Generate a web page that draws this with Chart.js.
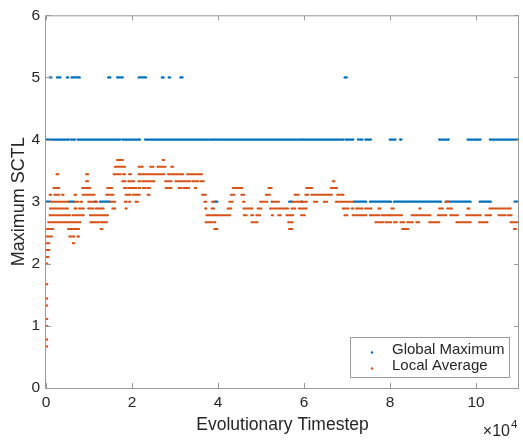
<!DOCTYPE html>
<html>
<head>
<meta charset="utf-8">
<script src="https://cdn.jsdelivr.net/npm/chart.js@4"></script>
<style>
  html, body { margin: 0; padding: 0; background: #fff; }
  #wrap { width: 523px; height: 442px; }
</style>
</head>
<body>
<div id="wrap"><canvas id="chart"></canvas></div>
<script>
// runs: [first timestep, last timestep] at one level
const gm5 = [[800,1300],[2500,3400],[4800,5200],[5900,7900],[14400,15000],[16500,17900],[21500,23300],[26900,27400],[28500,28900],[31200,31800],[69400,70000]];
const gm4 = [[0,5400],[5800,6800],[7300,17300],[17700,21900],[23000,39300],[39500,59500],[59700,69200],[69600,71500],[72500,72800],[73100,73600],[74200,75600],[79900,81300],[82300,82700],[91400,93700],[98000,101100],[103200,110000]];
const gm3 = [[0,1100],[5200,6600],[11300,11700],[12500,15000],[39100,39900],[52500,52500],[56500,57300],[59300,59700],[71500,74500],[75300,80300],[80900,91900],[92900,98800],[100800,103500],[108900,110000]];
const gm2 = [[100,300]];

const avg367 = [[16500,17900],[27100,27500]];
const avg356 = [[16000,18400],[21500,22500],[24200,25000],[25900,27800],[29100,29600]];
const avg344 = [[2400,2900],[9300,9800],[15700,17400],[17900,18400],[19300,19800],[21500,22700],[23000,23900],[24200,27500],[28400,30900],[31200,31900],[32800,36300]];
const avg333 = [[9300,9800],[17700,18500],[19100,20500],[21500,21900],[22400,25200],[27700,29200],[30100,33500],[34000,35500],[36000,36700],[66700,67100]];
const avg322 = [[1700,3100],[8400,10300],[14200,15400],[18100,18700],[19100,19800],[20100,21100],[21500,21900],[22500,23100],[23500,24200],[27800,29200],[30800,31500],[31900,33300],[34600,35000],[43400,45700],[51700,52500],[60500,61900],[66200,67700]];
const avg311 = [[800,1200],[1900,3100],[3700,4100],[6600,7000],[8500,9600],[9900,11300],[14000,15700],[18500,19700],[20200,21800],[23600,24100],[36300,37200],[43000,43800],[45400,46100],[51100,52100],[57800,58800],[60300,61000],[61700,66500],[67700,69200]];
const avg300 = [[1100,3500],[3800,5200],[6700,7500],[8000,8400],[9800,11200],[11700,11900],[15000,16100],[18300,18800],[19300,19600],[20800,21400],[36800,37300],[38600,39100],[42600,43400],[45800,46200],[49800,51500],[52700,54200],[57300,59300],[59700,60700],[62300,63100],[64600,65400],[67400,71500],[92900,93700]];
const avg289 = [[900,5100],[6600,7100],[7700,8800],[9800,11100],[11600,13400],[15400,16100],[18500,18800],[37000,37300],[38500,39100],[42200,43100],[45900,48000],[49200,50100],[52100,56300],[57100,58000],[58800,60600],[69000,70400],[71100,71500],[72100,73600],[74200,75700],[77300,77800],[80300,80900],[86800,87100],[91400,92300],[93300,94400],[98000,98500],[103100,108100]];
const avg278 = [[800,5600],[6200,8800],[10200,14400],[37300,39300],[39500,42800],[46000,46700],[47700,48200],[48900,49800],[52500,52800],[54000,54600],[55900,57500],[59300,60200],[69400,70100],[71300,74500],[75300,77600],[78100,79700],[79900,82800],[85000,89400],[91100,93100],[94000,95800],[97700,101100],[102200,103500],[105200,106900],[107400,108300]];
const avg267 = [[500,5700],[6000,8000],[10300,10900],[11100,12300],[12700,14200],[37100,38600],[39000,39400],[47800,49200],[56300,57400],[76600,78400],[78900,80300],[80900,81600],[82400,83300],[84000,85300],[86100,86800],[89100,91500],[95400,98800],[100700,102700],[108000,110000]];
const avg256 = [[200,1700],[5100,7700],[12700,13100],[39100,39900],[56500,57300],[82800,84300],[108800,109300]];
const avg244 = [[200,1400],[5400,6600],[7300,7700]];
const avg233 = [[100,800],[6200,6600]];
const avg222 = [[100,800]];
const avg211 = [[100,600]];
// first few local averages, all right at the start
const avgStart = [2, 1.67, 1.44, 1.33, 1.11, 1, 0.78, 0.67];
const avgStartRun = [100, 300];

const gmLevels = [[5, gm5], [4, gm4], [3, gm3], [2, gm2]];
const avgLevels = [
  [3.67, avg367], [3.56, avg356], [3.44, avg344], [3.33, avg333], [3.22, avg322],
  [3.11, avg311], [3, avg300], [2.89, avg289], [2.78, avg278], [2.67, avg267],
  [2.56, avg256], [2.44, avg244], [2.33, avg233], [2.22, avg222], [2.11, avg211]
].concat(avgStart.map(v => [v, [avgStartRun]]));

const xTicks = [0, 2, 4, 6, 8, 10]; // x 10^4

const BLUE = '#0072BD';
const ORANGE = '#D95319';
const AXIS = '#9a9a9a';
const TEXT = '#262626';
const FONT = '"Liberation Sans", Arial, Helvetica, sans-serif';

function toPoints(levels) {
  const pts = [];
  levels.forEach(([v, runs]) => {
    runs.forEach(([a, b]) => {
      pts.push({ x: a, y: v }, { x: b, y: v }, { x: b, y: null });
    });
  });
  return pts;
}

// matlab style box with inward ticks, legend and exponent
const matlabFrame = {
  id: 'matlabFrame',
  afterDraw(chart) {
    const { ctx, chartArea: ca, scales } = chart;
    ctx.save();
    ctx.strokeStyle = AXIS;
    ctx.lineWidth = 1;
    ctx.strokeRect(ca.left - 0.5, ca.top + 0.5, ca.right - ca.left, ca.bottom - ca.top);
    const tl = 5;
    ctx.beginPath();
    scales.x.ticks.forEach(t => {
      const px = Math.round(scales.x.getPixelForValue(t.value)) + 0.5;
      ctx.moveTo(px, ca.bottom); ctx.lineTo(px, ca.bottom - tl);
      ctx.moveTo(px, ca.top); ctx.lineTo(px, ca.top + tl);
    });
    scales.y.ticks.forEach(t => {
      const py = Math.round(scales.y.getPixelForValue(t.value)) + 0.5;
      ctx.moveTo(ca.left, py); ctx.lineTo(ca.left + tl, py);
      ctx.moveTo(ca.right, py); ctx.lineTo(ca.right - tl, py);
    });
    ctx.stroke();

    // legend
    const lx = ca.right - 169, ly = ca.bottom - 51, lw = 159, lh = 40;
    ctx.fillStyle = '#fff';
    ctx.fillRect(lx, ly, lw, lh);
    ctx.strokeStyle = AXIS;
    ctx.strokeRect(lx + 0.5, ly + 0.5, lw, lh);
    ctx.font = '15px ' + FONT;
    ctx.textBaseline = 'middle';
    ctx.textAlign = 'left';
    chart.data.datasets.slice().reverse().forEach((ds, i) => {
      const ry = ly + 12.5 + i * 16;
      ctx.fillStyle = ds.borderColor;
      ctx.beginPath();
      ctx.arc(lx + 22, ry + 3, 1.2, 0, Math.PI * 2);
      ctx.fill();
      ctx.fillStyle = TEXT;
      ctx.fillText(ds.label, lx + 42, ry);
    });

    // x 10^4
    ctx.fillStyle = TEXT;
    ctx.textBaseline = 'alphabetic';
    ctx.textAlign = 'right';
    ctx.font = '16px ' + FONT;
    ctx.fillText('\u00d710', ca.right - 9, 436);
    ctx.textAlign = 'left';
    ctx.font = '11.5px ' + FONT;
    ctx.fillText('4', ca.right - 8, 428);
    ctx.restore();
  }
};

new Chart(document.getElementById('chart'), {
  type: 'line',
  data: {
    datasets: [
      {
        label: 'Local Average',
        data: toPoints(avgLevels),
        borderColor: ORANGE,
        backgroundColor: ORANGE,
        borderWidth: 2,
        borderCapStyle: 'butt',
        pointRadius: 1,
        pointBorderWidth: 0,
        pointBackgroundColor: ORANGE,
        spanGaps: false,
        order: 1,
      },
      {
        label: 'Global Maximum',
        data: toPoints(gmLevels),
        borderColor: BLUE,
        backgroundColor: BLUE,
        borderWidth: 2.2,
        borderCapStyle: 'butt',
        pointRadius: 1,
        pointBorderWidth: 0,
        pointBackgroundColor: BLUE,
        spanGaps: false,
        order: 2,
      },
    ],
  },
  plugins: [matlabFrame],
  options: {
    responsive: true,
    maintainAspectRatio: false,
    animation: false,
    events: [],
    layout: { padding: { top: 13, right: 1, left: 0, bottom: 0 } },
    elements: { line: { tension: 0 } },
    scales: {
      x: {
        type: 'linear',
        min: 0,
        max: 110000,
        afterFit: s => { s.height = 54; },
        afterBuildTicks: s => { s.ticks = xTicks.map(v => ({ value: v * 10000 })); },
        ticks: {
          callback: v => String(v / 10000),
          color: TEXT,
          font: { size: 15.5, family: FONT },
          padding: 5,
          maxRotation: 0,
          autoSkip: false,
        },
        grid: { display: false, drawTicks: false },
        border: { display: false },
        title: {
          display: true,
          text: 'Evolutionary Timestep',
          color: TEXT,
          font: { size: 17.5, family: FONT },
          padding: { top: 0, bottom: 6 },
        },
      },
      y: {
        min: 0,
        max: 6,
        afterFit: s => { s.width = 46; },
        ticks: {
          stepSize: 1,
          color: TEXT,
          font: { size: 15.5, family: FONT },
          padding: 6,
        },
        grid: { display: false, drawTicks: false },
        border: { display: false },
        title: {
          display: true,
          text: 'Maximum SCTL',
          color: TEXT,
          font: { size: 18, family: FONT },
          padding: { top: 8, bottom: 0 },
        },
      },
    },
    plugins: {
      legend: { display: false },
      tooltip: { enabled: false },
    },
  },
});
</script>
</body>
</html>
